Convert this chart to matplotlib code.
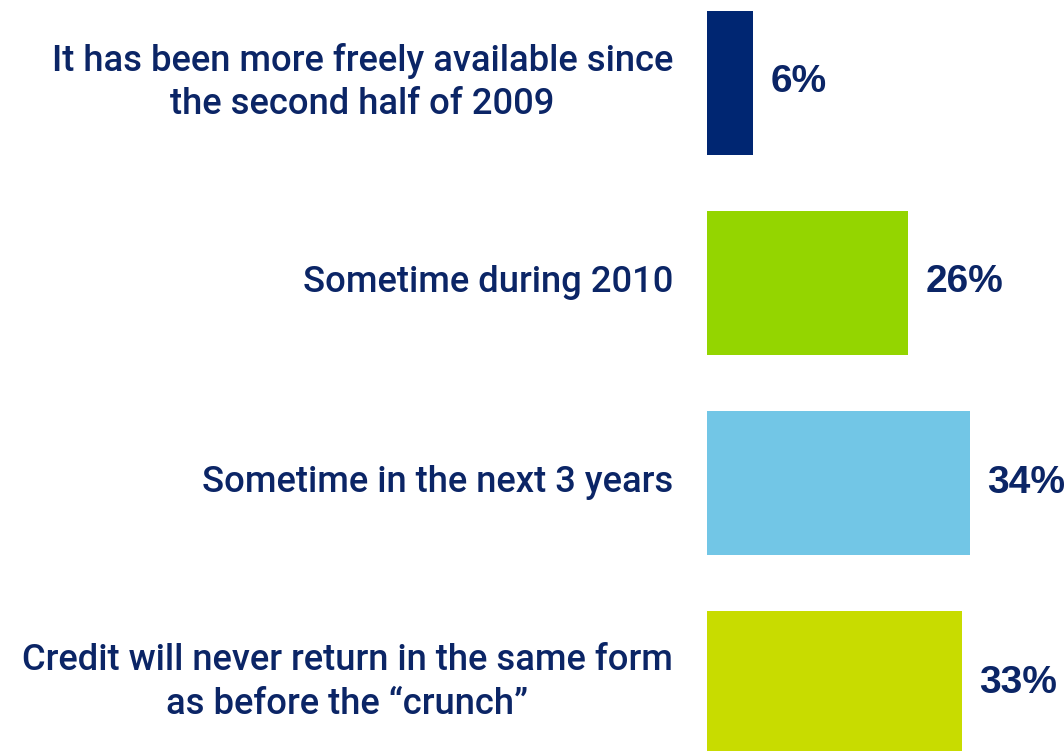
import numpy as np
import matplotlib.pyplot as plt

labels = ['It has been more freely available since\nthe second half of 2009',
          'Sometime during 2010',
          'Sometime in the next 3 years',
          'Credit will never return in the same form\nas before the \u201ccrunch\u201d']
values = [6, 26, 34, 33]
colors = ['#002672', '#94D500', '#72C6E6', '#C8DC00']
text_color = '#0B2566'

plt.rcParams['font.family'] = ['Liberation Sans', 'DejaVu Sans']

fig = plt.figure(figsize=(10.64, 7.51), dpi=100)
ax = fig.add_axes([707 / 1064, 0, 1 - 707 / 1064, 1])

y = np.arange(len(values))
ax.barh(y, values, height=0.72, color=colors)
ax.set_xlim(0, 357 / 7.74)
ax.set_ylim(3.3425, -0.4125)
ax.axis('off')

for i in range(len(values)):
    ax.annotate(labels[i], xy=(0, y[i]), xytext=(-34, 0), textcoords='offset pixels',
                ha='right', va='center', multialignment='center',
                fontsize=26.2, fontfamily=['Roboto', 'DejaVu Sans'], fontweight='medium',
                color=text_color, linespacing=1.32, annotation_clip=False)
    ax.annotate(f'{values[i]}%', xy=(values[i], y[i]), xytext=(17, 0), textcoords='offset pixels',
                ha='left', va='center', fontsize=28, fontweight='bold', color=text_color,
                annotation_clip=False)

fig.savefig('out.png', dpi=100)
